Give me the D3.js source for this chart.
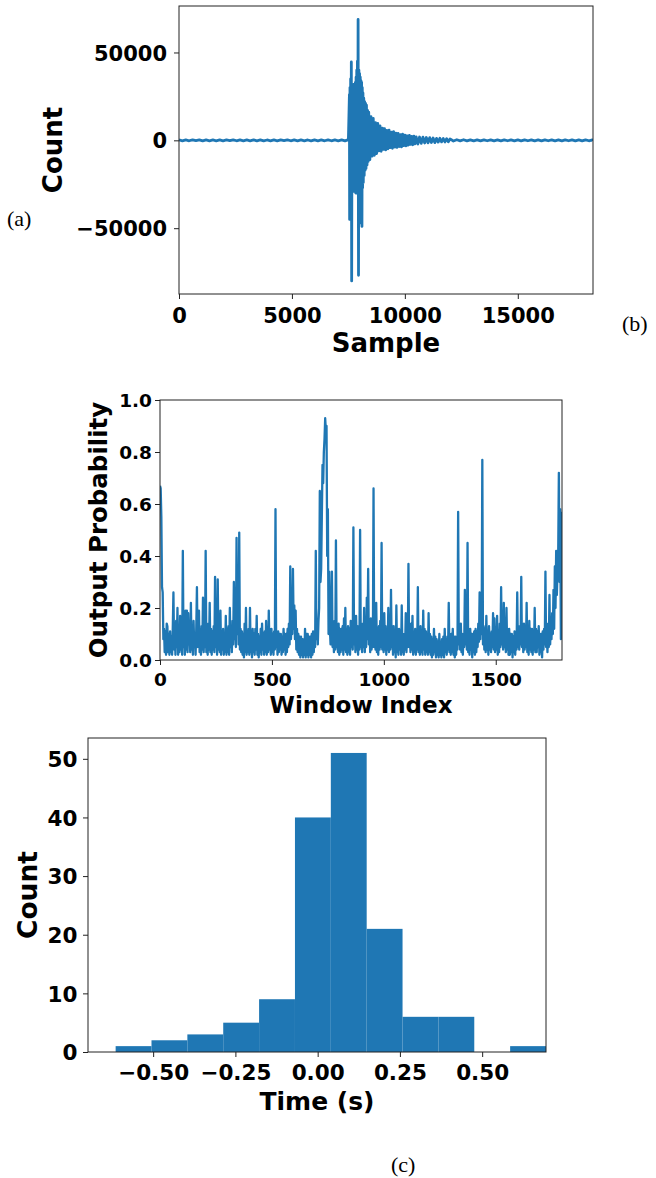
<!DOCTYPE html>
<html>
<head>
<meta charset="utf-8">
<script src="https://cdn.jsdelivr.net/npm/d3@7"></script>
<style>
  body { margin: 0; background: #fff; }
  svg text { font-family: "DejaVu Sans", sans-serif; font-weight: bold; fill: #000; }
  svg text.cap { font-family: "Liberation Serif", "Times New Roman", serif; font-weight: normal; }
</style>
</head>
<body>
<svg id="fig" width="656" height="1178"></svg>
<script>
// --- 1. DATA ---
// (a) seismic trace, read off the picture as alternating peaks
const waveSample = [
  0, 150, 300, 450, 600, 750, 900, 1050, 1200, 1350, 1500, 1650, 1800, 1950, 2100, 2250, 2400,
  2550, 2700, 2850, 3000, 3150, 3300, 3450, 3600, 3750, 3900, 4050, 4200, 4350, 4500, 4650, 4800,
  4950, 5100, 5250, 5400, 5550, 5700, 5850, 6000, 6150, 6300, 6450, 6600, 6750, 6900, 7050, 7200,
  7350, 7500,
  7545, 7555, 7570, 7585, 7600, 7615, 7630, 7645, 7660, 7675,
  7690, 7705, 7720, 7735, 7750, 7765, 7780, 7795, 7810, 7825,
  7840, 7855, 7870, 7885, 7900, 7915, 7930, 7948, 7965, 7980,
  7995, 8010, 8025, 8040, 8055, 8070, 8085, 8100, 8115, 8130,
  8145, 8160, 8180, 8200, 8220, 8240, 8260, 8280, 8300, 8325,
  8350, 8375,
  8400, 8450, 8500, 8550, 8600, 8650, 8700, 8750, 8800, 8850, 8900, 8950, 9000, 9050, 9100,
  9150, 9200, 9250, 9300, 9350, 9400, 9450, 9500, 9550, 9600, 9650, 9700, 9750, 9800, 9850,
  9900, 9950, 10000, 10050, 10100, 10150, 10200, 10250, 10300, 10350, 10400, 10450, 10500,
  10575, 10650, 10725, 10800, 10875, 10950, 11025, 11100, 11175, 11250, 11325, 11400, 11475,
  11550, 11625, 11700, 11775, 11850, 11925, 12000,
  12150, 12300, 12450, 12600, 12750, 12900, 13050, 13200, 13350, 13500, 13650, 13800, 13950,
  14100, 14250, 14400, 14550, 14700, 14850, 15000, 15150, 15300, 15450, 15600, 15750, 15900,
  16050, 16200, 16350, 16500, 16650, 16800, 16950, 17100, 17250, 17400, 17550, 17700, 17850,
  18000, 18150, 18300, 18330
];
const waveCount = [
  250, -250, 200, -250, 300, -200, 250, -300, 250, -250, 200, -250, 250, -250, 250, -200, 300,
  -250, 250, -250, 200, -250, 250, -250, 250, -300, 200, -250, 250, -250, 250, -200, 300,
  -250, 250, -250, 250, -250, 200, -300, 250, -250, 250, -250, 300, -250, 200, -250, 250,
  -300, 400,
  26000, -45000, 30000, -28000, 35000, -30000, 44600, -80000, 31000, -28000,
  30000, -27000, 29000, -29000, 32000, -26000, 30000, -28000, 33000, -30000,
  36000, -28000, 40000, -30000, 45000, -28000, 68800, -76800, 40000, -30000,
  38000, -47000, 36000, -30000, 34000, -28000, 33000, -49000, 30000, -27000,
  27000, -24000, 24000, -20000, 22000, -17000, 21000, -16000, 20000, -14000,
  17000, -12000,
  16000, -11000, 13500, -9000, 12500, -8500, 10000, -7500, 9600, -6000, 8200, -6200, 7000, -5200, 6600,
  -5400, 5600, -4800, 5800, -4200, 4600, -4500, 4900, -3800, 4100, -4000, 3900, -3500, 3300, -3700,
  3500, -3000, 2900, -3200, 2600, -2700, 2800, -2300, 2300, -2500, 2400, -2000, 2000,
  -2100, 1900, -1700, 1800, -1500, 1600, -1400, 1500, -1200, 1300, -1300, 1100, -1000,
  1200, -900, 1000, -900, 900, -800, 800,
  -400, 350, -300, 350, -300, 300, -300, 250, -300, 300, -250, 300, -300,
  250, -300, 300, -250, 300, -300, 250, -300, 300, -250, 300, -300, 250,
  -300, 300, -250, 300, -300, 250, -300, 300, -250, 300, -300, 250,
  -300, 300, -250, 250, -250
];
const waveXTicks = [0, 5000, 10000, 15000];
const waveYTicks = [-50000, 0, 50000];

// (b) output probability, one value every 3 windows
const probStep = 3;
const probValues = [
  .67,.66,.55,.28,.26,.08,.12,.03,.11,.02,.14,.13,.03,.10,.02,.11,.03,.09,.02,.12,
  .26,.04,.12,.02,.15,.05,.20,.02,.13,.03,.17,.04,.10,.02,.42,.05,.12,.02,.19,.04,
  .19,.03,.18,.06,.11,.03,.22,.04,.13,.02,.15,.05,.10,.02,.12,.28,.05,.14,.19,.03,
  .12,.02,.13,.04,.24,.03,.11,.05,.42,.03,.13,.02,.14,.04,.22,.03,.12,.02,.11,.04,
  .13,.03,.32,.05,.15,.02,.31,.04,.12,.03,.19,.02,.11,.04,.12,.02,.10,.03,.17,.02,
  .12,.03,.13,.02,.20,.05,.11,.03,.15,.06,.30,.08,.14,.05,.47,.10,.30,.06,.49,.04,
  .12,.03,.11,.02,.10,.01,.14,.03,.20,.02,.11,.03,.12,.02,.20,.03,.10,.01,.12,.03,
  .10,.02,.12,.04,.17,.02,.10,.01,.09,.03,.12,.02,.14,.04,.10,.02,.11,.03,.15,.02,
  .10,.03,.19,.04,.12,.02,.12,.03,.10,.02,.11,.04,.58,.05,.10,.02,.11,.03,.10,.04,
  .10,.02,.09,.03,.12,.04,.10,.02,.10,.03,.12,.05,.14,.06,.36,.08,.15,.10,.35,.12,
  .21,.08,.19,.04,.12,.03,.10,.02,.09,.01,.09,.02,.08,.01,.08,.02,.12,.01,.10,.02,
  .10,.01,.09,.02,.09,.01,.10,.02,.11,.03,.10,.05,.42,.08,.14,.06,.15,.20,.65,.30,
  .35,.55,.75,.68,.80,.85,.93,.88,.90,.40,.58,.10,.34,.12,.06,.15,.34,.05,.14,.03,
  .15,.04,.46,.05,.12,.03,.14,.02,.12,.03,.12,.04,.13,.02,.16,.04,.20,.03,.12,.02,
  .13,.03,.12,.02,.15,.05,.13,.04,.51,.06,.12,.03,.17,.04,.13,.02,.13,.04,.50,.05,
  .12,.03,.14,.05,.20,.03,.12,.05,.24,.08,.35,.06,.14,.03,.16,.04,.12,.05,.66,.05,
  .13,.04,.22,.03,.12,.02,.13,.04,.15,.05,.45,.04,.12,.03,.18,.04,.13,.02,.12,.04,
  .20,.03,.12,.04,.27,.05,.13,.02,.13,.03,.10,.01,.21,.03,.12,.02,.12,.04,.11,.02,
  .21,.03,.10,.02,.10,.04,.18,.03,.12,.05,.37,.05,.12,.03,.14,.04,.17,.02,.11,.03,
  .12,.02,.11,.04,.28,.03,.12,.02,.13,.03,.10,.02,.19,.04,.12,.02,.11,.03,.10,.02,
  .18,.03,.10,.02,.09,.01,.08,.02,.12,.03,.09,.01,.08,.02,.07,.01,.10,.02,.07,.01,
  .08,.02,.09,.01,.12,.03,.08,.02,.09,.04,.22,.03,.10,.02,.10,.03,.12,.02,.09,.01,
  .09,.02,.08,.04,.57,.06,.12,.04,.14,.03,.10,.02,.10,.05,.27,.06,.12,.04,.45,.03,
  .10,.02,.12,.04,.10,.01,.10,.03,.11,.02,.12,.03,.11,.05,.14,.07,.26,.08,.25,.10,
  .77,.06,.13,.04,.12,.03,.17,.04,.11,.02,.13,.04,.10,.03,.11,.05,.18,.04,.16,.03,
  .12,.04,.17,.02,.11,.03,.14,.05,.28,.06,.13,.04,.22,.05,.12,.03,.20,.04,.12,.02,
  .12,.02,.10,.03,.10,.01,.09,.03,.11,.02,.10,.04,.26,.05,.13,.04,.13,.06,.32,.05,
  .13,.03,.14,.04,.12,.05,.22,.03,.12,.02,.15,.04,.12,.03,.12,.02,.11,.04,.20,.03,
  .12,.03,.11,.05,.13,.02,.10,.03,.10,.01,.11,.04,.12,.06,.34,.05,.12,.03,.14,.05,
  .25,.06,.15,.08,.18,.10,.27,.12,.36,.20,.42,.25,.35,.40,.72,.30,.58,.08,.57
];
const probXTicks = [0, 500, 1000, 1500];
const probYTicks = [0, 0.2, 0.4, 0.6, 0.8, 1.0];

// (c) histogram of time differences
const binEdges = [-0.614, -0.505, -0.396, -0.287, -0.178, -0.069, 0.040, 0.149, 0.258, 0.367, 0.476, 0.585, 0.694];
const binCounts = [1, 2, 3, 5, 9, 40, 51, 21, 6, 6, 0, 1];
const histXTicks = [-0.5, -0.25, 0, 0.25, 0.5];
const histYTicks = [0, 10, 20, 30, 40, 50];

// --- 2. SETUP ---
const blue = '#1f77b4';
const svg = d3.select('#fig');
const defs = svg.append('defs');

function clipFor(id, x, y) {
  const [l, r] = x.range(), [b, t] = y.range();
  defs.append('clipPath').attr('id', id).append('rect')
    .attr('x', l).attr('y', t).attr('width', r - l).attr('height', b - t);
  return `url(#${id})`;
}

function addAxes(x, y, o) {
  const [left, right] = x.range();
  const [bottom, top] = y.range();
  const g = svg.append('g');

  const xg = g.append('g').attr('transform', `translate(0,${bottom})`)
    .call(d3.axisBottom(x).tickValues(o.xTicks).tickFormat(o.xFormat).tickSize(5).tickSizeOuter(0));
  xg.select('.domain').remove();
  xg.selectAll('text').attr('y', o.xTextY - bottom).attr('dy', null).style('font-size', o.font + 'px');

  const yg = g.append('g').attr('transform', `translate(${left},0)`)
    .call(d3.axisLeft(y).tickValues(o.yTicks).tickFormat(o.yFormat).tickSize(5).tickSizeOuter(0));
  yg.select('.domain').remove();
  yg.selectAll('text').attr('x', o.yTextX - left).attr('dy', '0.36em').style('font-size', o.font + 'px');

  g.selectAll('.tick line').attr('stroke', '#222');
  g.append('rect')
    .attr('x', left).attr('y', top).attr('width', right - left).attr('height', bottom - top)
    .attr('fill', 'none').attr('stroke', '#222').attr('stroke-width', 1);
}

function label(text, x, y, size, rotate) {
  svg.append('text')
    .attr('transform', `translate(${x},${y})` + (rotate ? ' rotate(-90)' : ''))
    .attr('text-anchor', 'middle')
    .style('font-size', size + 'px')
    .text(text);
}

function caption(text, x, y) {
  svg.append('text').attr('class', 'cap').attr('x', x).attr('y', y)
    .style('font-size', '22px').text(text);
}

// --- 3. PANEL (a): WAVEFORM ---
const xa = d3.scaleLinear().domain([0, 18330]).range([179, 593]);
const ya = d3.scaleLinear().domain([-87450, 76450]).range([294, 6]);

svg.append('path')
  .datum(d3.range(waveSample.length))
  .attr('clip-path', clipFor('clipA', xa, ya))
  .attr('fill', 'none').attr('stroke', blue).attr('stroke-width', 2.8)
  .attr('stroke-linejoin', 'round')
  .attr('d', d3.line().x(i => xa(waveSample[i])).y(i => ya(waveCount[i])));

addAxes(xa, ya, {
  xTicks: waveXTicks, yTicks: waveYTicks,
  xFormat: d3.format('d'), yFormat: d3.format('d'),
  font: 21, xTextY: 323, yTextX: 167
});
label('Sample', 386, 352, 26);
label('Count', 62, 150, 26, true);
caption('(a)', 7, 226);
caption('(b)', 622, 331);

// --- 4. PANEL (b): OUTPUT PROBABILITY ---
const xb = d3.scaleLinear().domain([0, 1796]).range([160, 562]);
const yb = d3.scaleLinear().domain([0, 1]).range([660, 400]);

svg.append('path')
  .datum(probValues)
  .attr('clip-path', clipFor('clipB', xb, yb))
  .attr('fill', 'none').attr('stroke', blue).attr('stroke-width', 2.3)
  .attr('stroke-linejoin', 'round')
  .attr('d', d3.line().x((d, i) => xb(i * probStep)).y(d => yb(d)));

addAxes(xb, yb, {
  xTicks: probXTicks, yTicks: probYTicks,
  xFormat: d3.format('d'), yFormat: d3.format('.1f'),
  font: 18.5, xTextY: 686, yTextX: 152
});
label('Window Index', 361, 713, 23);
label('Output Probability', 107, 530, 24.5, true);

// --- 5. PANEL (c): HISTOGRAM ---
const xc = d3.scaleLinear().domain([-0.698, 0.694]).range([88, 546]);
const yc = d3.scaleLinear().domain([0, 53.55]).range([1052, 738]);

svg.append('g')
  .attr('clip-path', clipFor('clipC', xc, yc))
  .selectAll('rect')
  .data(binCounts)
  .join('rect')
  .attr('x', (d, i) => xc(binEdges[i]))
  .attr('width', (d, i) => xc(binEdges[i + 1]) - xc(binEdges[i]))
  .attr('y', d => yc(d))
  .attr('height', d => yc(0) - yc(d))
  .attr('fill', blue);

addAxes(xc, yc, {
  xTicks: histXTicks, yTicks: histYTicks,
  xFormat: d3.format('.2f'), yFormat: d3.format('d'),
  font: 21.5, xTextY: 1080, yTextX: 77.5
});
label('Time (s)', 317, 1110, 25);
label('Count', 37, 895, 26.5, true);
caption('(c)', 391, 1172);
</script>
</body>
</html>
